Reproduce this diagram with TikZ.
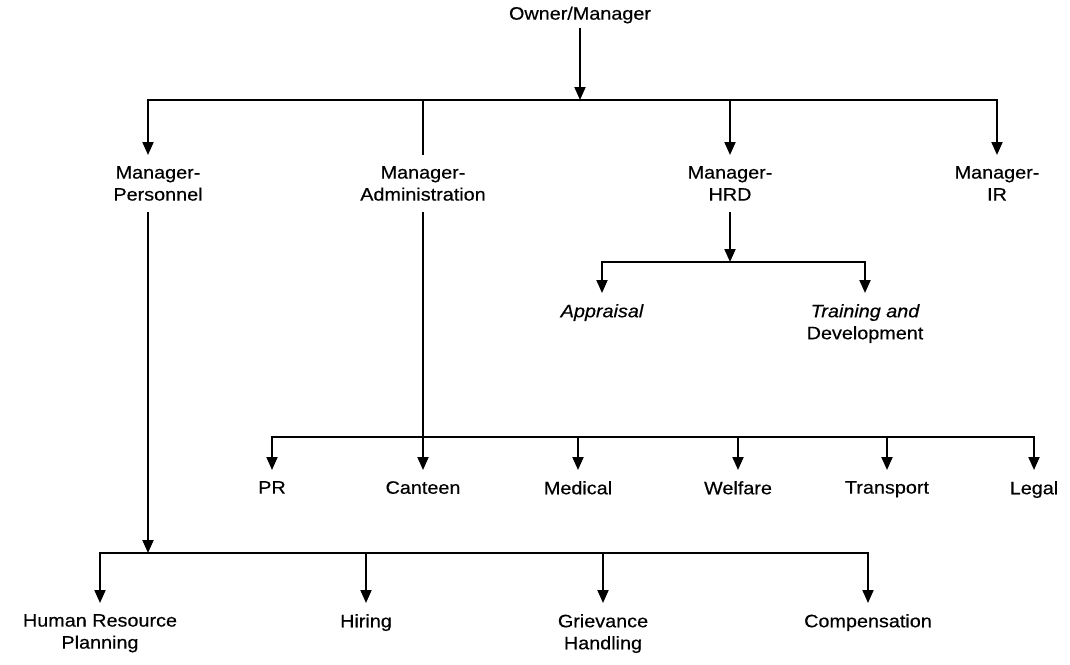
\documentclass[tikz,border=0pt]{standalone}
\usepackage{fontspec}
\setmainfont[FakeStretch=1.1,FakeBold=0.4]{Liberation Sans}
\usetikzlibrary{arrows.meta}
\begin{document}
\begin{tikzpicture}[x=1pt,y=-1pt,
  wire/.style={line width=1.9pt},
  arr/.style={wire,-{Triangle[length=13pt,width=11pt]}},
  unit/.style={font=\fontsize{18}{22}\selectfont, align=center, anchor=north,
               inner xsep=2pt, inner ysep=11pt}]
\useasboundingbox (0,0) rectangle (1070,664);

% top of the chart
\node[unit, anchor=center, inner ysep=4pt] (own) at (580,15) {Owner/Manager};
\coordinate (j1) at (580,100);
\draw[arr] (own.south) -- (j1);

% managers
\node[unit] (mp)  at (158,155) {Manager-\\Personnel};
\node[unit] (ma)  at (423,155) {Manager-\\Administration};
\node[unit] (mh)  at (730,155) {Manager-\\HRD};
\node[unit] (mir) at (997,155) {Manager-\\IR};
\draw[arr]  (j1) -| ([xshift=-10pt]mp.north);
\draw[wire] (j1) -| (ma.north);
\draw[arr]  (j1) -| (mh.north);
\draw[arr]  (j1) -| (mir.north);

% HRD branch
\coordinate (j2) at (730,262);
\node[unit] (app) at (602,293) {\itshape Appraisal};
\node[unit] (trn) at (865,293) {{\itshape Training and}\\Development};
\draw[arr] (mh.south) -- (j2);
\draw[arr] (j2) -| (app.north);
\draw[arr] (j2) -| (trn.north);

% administration branch
\coordinate (j3) at (423,437);
\node[unit] (pr)  at (272,470)  {PR};
\node[unit] (can) at (423,470)  {Canteen};
\node[unit] (med) at (578,470)  {Medical};
\node[unit] (wel) at (738,470)  {Welfare};
\node[unit] (tra) at (887,470)  {Transport};
\node[unit] (leg) at (1034,470) {Legal};
\draw[arr] (ma.south) -- (can.north);
\draw[arr] (j3) -| (pr.north);
\draw[arr] (j3) -| (med.north);
\draw[arr] (j3) -| (wel.north);
\draw[arr] (j3) -| (tra.north);
\draw[arr] (j3) -| (leg.north);

% personnel branch
\coordinate (j4) at (148,553);
\node[unit] (hrp) at (100,603) {Human Resource\\Planning};
\node[unit] (hir) at (366,603) {Hiring};
\node[unit] (gri) at (603,603) {Grievance\\Handling};
\node[unit] (com) at (868,603) {Compensation};
\draw[arr] ([xshift=-10pt]mp.south) -- (j4);
\draw[arr] (j4) -| (hrp.north);
\draw[arr] (j4) -| (hir.north);
\draw[arr] (j4) -| (gri.north);
\draw[arr] (j4) -| (com.north);
\end{tikzpicture}
\end{document}
